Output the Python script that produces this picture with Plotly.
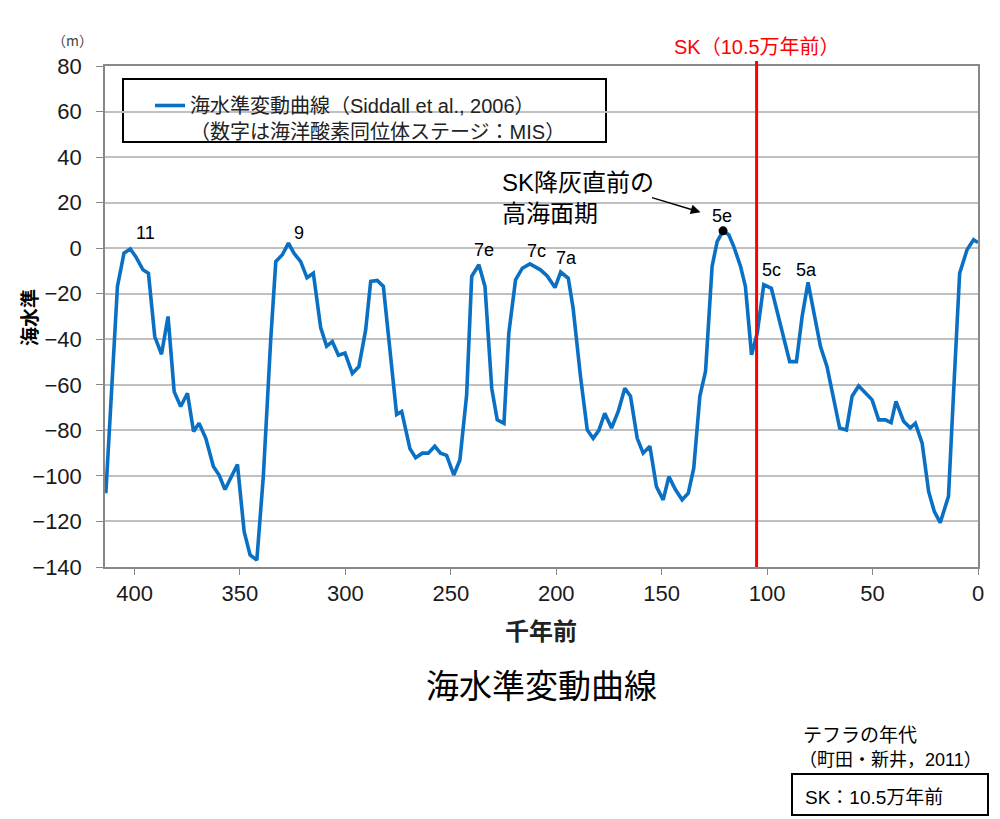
import plotly.graph_objects as go

# sea level curve (Siddall et al., 2006)
age_kyr = [413.6, 408.1, 405, 402, 399.4, 396, 393.4, 390.4, 387.2, 384.1, 381.2, 378.1,
           374.9, 372, 369.4, 366.2, 362.6, 359.9, 357.1, 351.2, 348, 345.2, 342, 338.9,
           335.4, 333, 329.9, 327, 324.4, 321.2, 318.2, 315.2, 311.7, 308.9, 306.2, 303.3,
           300.2, 296.7, 293.6, 290.4, 288, 284.9, 282, 278.9, 275.7, 273.3, 269.4, 266.7,
           263.5, 260.7, 257.6, 254.9, 252, 248.6, 245.7, 242.5, 240.1, 236.7, 233.8, 230.6,
           228, 224.8, 222.5, 219.3, 216.1, 212.5, 207.5, 204.3, 200.6, 197.9, 194.3, 192,
           188.5, 185.3, 182.5, 179.8, 177, 173.8, 170.6, 167.5, 164.8, 161.6, 158.8, 155.6,
           152.5, 149.3, 146.6, 143.5, 140.3, 137.4, 134.8, 131.9, 129.2, 126.1, 123.7, 120.9,
           118.2, 115.8, 112.6, 110.3, 107.4, 104.7, 101.6, 98, 93.7, 89.3, 86.1, 83.4,
           80.6, 77.9, 74.7, 71.6, 68.4, 65.6, 62.4, 59.7, 56.6, 53.4, 50.2, 47.1,
           43.9, 41.2, 38.9, 35.3, 32.1, 29.7, 26.5, 23.4, 20.7, 17.9, 14, 11.6,
           8.7, 5.2, 2.1, 0]
sea_level_m = [-107.6, -16.8, -2.2, -0.3, -3.7, -9.5, -11, -38.8, -46.6, -30, -63, -69.5,
               -63.7, -80.5, -76.9, -83.5, -95.9, -99.6, -106, -95, -124.5, -134.7, -137, -100,
               -40, -5.9, -2.9, 2.2, -2.2, -5.9, -13, -11, -35, -43, -41, -47,
               -46, -55, -52, -36, -14.6, -14.2, -16.8, -44.7, -73, -71.7, -88, -92,
               -90, -90, -87, -90, -91, -99.6, -93, -64.4, -12.4, -7.3, -16.8, -61.5,
               -75.4, -76.9, -37.3, -13.9, -8.8, -6.9, -9.5, -12.2, -17.3, -10.5, -13.2, -26.4,
               -56.4, -79.8, -83.5, -80, -72.5, -79, -71.7, -61.5, -65, -83.5, -90, -87,
               -104.7, -110.5, -100.3, -106, -110.5, -107.6, -96.6, -65, -54, -8, 2.9, 7.6,
               5.9, 0.7, -8, -16.8, -46.8, -37.3, -16, -17.6, -33, -49.8, -49.8, -30,
               -15, -28.5, -43.2, -52, -66.6, -79, -79.8, -65, -60.5, -63.7, -66.6, -75.4,
               -75.4, -76.6, -67.3, -76, -79, -76.9, -85.6, -106.9, -115.7, -120.5, -109, -63.7,
               -11, -0.7, 3.7, 2.5]

# marine isotope stage labels
mis_labels = ["11", "9", "7e", "7c", "7a", "5e", "5c", "5a"]
mis_age = [394.6, 322.1, 234.5, 209.3, 195.1, 121.2, 98, 81.5]
mis_level = [6.6, 6.6, -0.9, -1.2, -4.3, 14.1, -9.7, -9.7]

# SK tephra
sk_age = 105
peak_5e_age = [120.9]
peak_5e_level = [7.6]

x_ticks = [400, 350, 300, 250, 200, 150, 100, 50, 0]

# plot area in pixels (for placing the free text)
L, R, T, B = 105, 978, 66, 567


def px(x):
    return (x - L) / (R - L)


def py(y):
    return (B - y) / (B - T)


NUM = "Liberation Sans, Noto Sans CJK JP"
JP = "Noto Sans CJK JP"

fig = go.Figure()

fig.add_trace(go.Scatter(
    x=age_kyr, y=sea_level_m, mode="lines",
    line=dict(color="#0A70C4", width=3.6),
    name="海水準変動曲線（Siddall et al., 2006）<br>（数字は海洋酸素同位体ステージ：MIS）",
))

fig.add_trace(go.Scatter(
    x=peak_5e_age, y=peak_5e_level, mode="markers",
    marker=dict(color="black", size=9), showlegend=False,
))

annotations = []
for lab, a, v in zip(mis_labels, mis_age, mis_level):
    annotations.append(dict(x=a, y=v, text=lab, showarrow=False, xanchor="center", yanchor="middle",
                            font=dict(family=NUM, size=18, color="black")))

# arrow to 5e
annotations.append(dict(x=131.6, y=15.8, text="", showarrow=True, ax=-50, ay=-15,
                        arrowhead=2, arrowsize=1.3, arrowwidth=1.5, arrowcolor="black"))


def note(x, y, text, size, color="black", family=NUM, xanchor="center", **kw):
    return dict(x=px(x), y=py(y), xref="paper", yref="paper", text=text, showarrow=False,
                xanchor=xanchor, yanchor="middle", font=dict(family=family, size=size, color=color), **kw)


annotations += [
    note(500, 198, "SK降灰直前の<br>高海面期", 24, xanchor="left", align="left"),
    dict(x=sk_age, y=py(47), xref="x", yref="paper", text="SK（10.5万年前）", showarrow=False,
         xanchor="center", yanchor="middle", font=dict(family=NUM, size=20, color="#FF0000")),
    note(72, 40, "（m）", 14, color="#444", family=JP),
    note(28, 318, "<b>海水準</b>", 19, family=JP, textangle=-90),
    note(541, 629, "<b>千年前</b>", 24, color="#222", family=JP),
    note(541, 684, "海水準変動曲線", 33, family=JP),
    note(801, 735, "テフラの年代", 19, xanchor="left"),
    note(797, 760, "（町田・新井，2011）", 18, xanchor="left"),
    note(803, 797, "SK：10.5万年前", 19, xanchor="left"),
]

shapes = [
    # SK line
    dict(type="line", xref="x", yref="paper", x0=sk_age, x1=sk_age, y0=0, y1=py(61),
         line=dict(color="#FF0000", width=3)),
    # legend frame
    dict(type="rect", xref="paper", yref="paper", x0=px(123), x1=px(606), y0=py(142), y1=py(79),
         line=dict(color="black", width=2), fillcolor="white", layer="below"),
    # tephra box
    dict(type="rect", xref="paper", yref="paper", x0=px(792), x1=px(988), y0=py(815), y1=py(774),
         line=dict(color="black", width=2)),
]

fig.update_layout(
    width=1000, height=819,
    margin=dict(l=L, r=1000 - R, t=T, b=819 - B),
    plot_bgcolor="white", paper_bgcolor="white",
    font=dict(family=NUM, color="#222"),
    showlegend=True,
    legend=dict(x=px(150), y=py(86), xanchor="left", yanchor="top",
                bgcolor="rgba(0,0,0,0)", borderwidth=0, valign="top",
                font=dict(family=NUM, size=20, color="#222")),
    annotations=annotations,
    shapes=shapes,
)

fig.update_xaxes(
    range=[414, 0], tickvals=x_ticks, ticks="outside", ticklen=6, tickcolor="#888",
    showgrid=False, zeroline=False, showline=True, linecolor="#888", linewidth=1.5, mirror=True,
    tickfont=dict(family=NUM, size=22, color="#1a1a1a"),
)
fig.update_yaxes(
    range=[-140, 80], dtick=20, ticks="outside", ticklen=7, tickcolor="#888",
    showgrid=True, gridcolor="#C0C0C0", gridwidth=1.5, zeroline=False,
    showline=True, linecolor="#888", linewidth=1.5, mirror=True,
    tickfont=dict(family=NUM, size=22, color="#1a1a1a"), ticklabelstandoff=10,
)

# no page margin, so the figure sits at the window's corner
fig.write_html("out.html", config={"displayModeBar": False},
               post_script="document.body.style.margin='0';")
